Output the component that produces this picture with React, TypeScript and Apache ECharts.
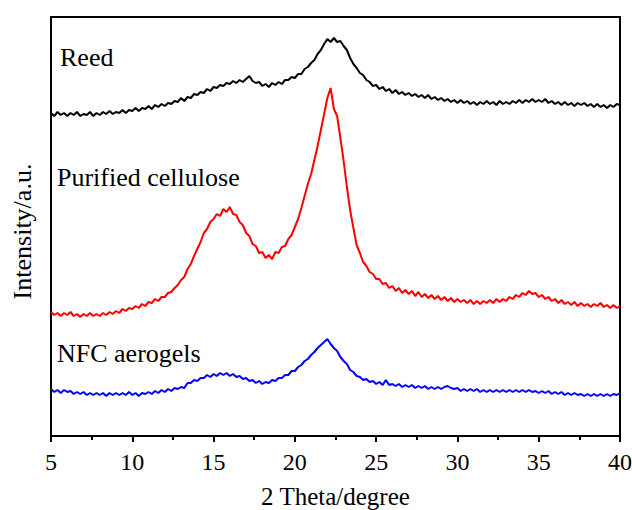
import React, { useEffect, useRef } from "react";
import * as echarts from "echarts";

const thetaStart = 5;
const thetaStep = 0.2;
const xTicks = [5, 10, 15, 20, 25, 30, 35, 40];
const seriesNames = ["Reed", "Purified cellulose", "NFC aerogels"];
const seriesColors = ["#000000", "#ff0000", "#0000ff"];

const reed = [
  323, 320, 324, 321, 323, 320, 323, 321, 324, 320, 322, 321, 324, 320, 323,
  321, 324, 322, 325, 322, 324, 323, 326, 323, 326, 325, 328, 325, 328, 327,
  330, 327, 331, 329, 332, 330, 333, 332, 335, 334, 338, 335, 339, 338, 342,
  341, 344, 343, 347, 345, 349, 348, 351, 350, 353, 352, 355, 353, 356, 354,
  357, 360, 355, 353, 354, 350, 352, 349, 353, 351, 354, 352, 356, 356, 359,
  358, 362, 362, 367, 369, 373, 376, 382, 386, 392, 397, 394, 398, 394, 395,
  390, 386, 378, 372, 368, 363, 361, 356, 354, 350, 351, 347, 349, 345, 347,
  343, 346, 342, 344, 341, 343, 340, 342, 339, 341, 338, 341, 337, 339, 336,
  338, 335, 337, 334, 336, 333, 336, 333, 335, 332, 334, 331, 334, 332, 335,
  332, 334, 331, 335, 332, 334, 332, 335, 333, 336, 333, 336, 334, 337, 334,
  336, 334, 337, 333, 335, 332, 334, 331, 334, 331, 333, 330, 333, 331, 333,
  330, 332, 329, 332, 329, 331, 328, 331, 329, 332, 331,
];

const purified = [
  124, 121, 123, 120, 123, 121, 124, 120, 122, 119, 122, 120, 123, 120, 122,
  120, 123, 121, 124, 122, 125, 123, 127, 125, 128, 127, 130, 128, 132, 130,
  134, 133, 137, 135, 139, 139, 143, 144, 148, 151, 156, 159, 167, 172, 180,
  187, 194, 203, 207, 214, 217, 222, 220, 227, 224, 229, 222, 221, 214, 211,
  203, 200, 192, 190, 183, 184, 178, 181, 177, 184, 183, 189, 190, 197, 201,
  209, 217, 228, 240, 252, 262, 276, 290, 306, 322, 338, 348, 327, 320, 298,
  275, 249, 226, 208, 191, 183, 174, 170, 164, 162, 157, 157, 152, 153, 148,
  150, 145, 148, 143, 146, 142, 145, 140, 144, 139, 142, 138, 141, 137, 140,
  136, 139, 135, 138, 134, 137, 134, 136, 133, 136, 132, 135, 132, 135, 133,
  136, 133, 137, 134, 137, 135, 139, 137, 141, 139, 143, 141, 145, 142, 143,
  139, 141, 137, 139, 135, 137, 133, 136, 132, 134, 131, 134, 130, 133, 130,
  132, 129, 132, 130, 133, 129, 131, 128, 131, 128, 130,
];

const aerogels = [
  47, 44, 46, 43, 46, 44, 45, 42, 44, 42, 44, 41, 43, 41, 43,
  41, 43, 40, 43, 41, 43, 41, 43, 41, 44, 41, 43, 40, 43, 42,
  44, 42, 45, 43, 46, 44, 47, 45, 48, 47, 49, 48, 53, 53, 56,
  55, 58, 58, 61, 59, 62, 60, 63, 61, 63, 60, 62, 59, 60, 57,
  58, 55, 56, 53, 55, 52, 54, 53, 56, 55, 58, 58, 61, 61, 65,
  65, 69, 71, 75, 77, 81, 84, 88, 91, 94, 97, 92, 88, 85, 79,
  75, 72, 66, 64, 60, 59, 56, 57, 54, 55, 52, 54, 51, 56, 51,
  52, 50, 52, 49, 51, 49, 51, 48, 50, 48, 50, 47, 49, 47, 49,
  47, 49, 50, 48, 47, 48, 45, 47, 45, 47, 45, 47, 44, 46, 44,
  46, 44, 46, 44, 46, 44, 46, 44, 46, 44, 46, 44, 46, 44, 45,
  43, 45, 43, 45, 42, 44, 42, 44, 41, 43, 41, 43, 41, 42, 40,
  42, 40, 42, 40, 42, 40, 42, 40, 42, 41, 43,
];

const seriesValues = [reed, purified, aerogels];

function toPairs(vals: number[]) {
  return vals.map((v, i) => [
    Math.round((thetaStart + i * thetaStep) * 10) / 10,
    v,
  ]);
}

const serif = "Liberation Serif";

export default function App() {
  const ref = useRef<HTMLDivElement>(null);
  useEffect(() => {
    if (!ref.current) return;
    const chart = echarts.init(ref.current, undefined, { renderer: "svg" });
    const labelTops = [44, 164, 340];
    const labelLefts = [60, 57, 57];
    chart.setOption({
      animation: false,
      backgroundColor: "#ffffff",
      grid: {
        left: 51,
        right: 12,
        top: 17,
        bottom: 74,
        show: true,
        borderColor: "#000000",
        borderWidth: 2,
        backgroundColor: "transparent",
        outerBoundsMode: "none",
        containLabel: false,
      },
      xAxis: {
        type: "value",
        min: xTicks[0],
        max: xTicks[xTicks.length - 1],
        interval: 5,
        name: "2 Theta/degree",
        nameLocation: "middle",
        nameGap: 48,
        nameTextStyle: { fontFamily: serif, fontSize: 25, color: "#000" },
        axisLine: { show: true, lineStyle: { color: "#000", width: 2 } },
        axisTick: {
          show: true,
          inside: false,
          length: 6,
          lineStyle: { color: "#000", width: 2 },
        },
        minorTick: {
          show: true,
          splitNumber: 2,
          length: 4,
          lineStyle: { color: "#000", width: 2 },
        },
        axisLabel: {
          fontFamily: serif,
          fontSize: 24,
          color: "#000",
          margin: 14,
        },
        splitLine: { show: false },
      },
      yAxis: {
        type: "value",
        min: 0,
        max: 419,
        name: "Intensity/a.u.",
        nameLocation: "middle",
        nameGap: 16,
        nameRotate: 90,
        nameTextStyle: {
          fontFamily: serif,
          fontSize: 26,
          color: "#000",
          padding: [0, 10, 0, 0],
        },
        axisLine: { show: true, lineStyle: { color: "#000", width: 2 } },
        axisTick: { show: false },
        axisLabel: { show: false },
        splitLine: { show: false },
      },
      series: seriesValues.map((vals, i) => ({
        name: seriesNames[i],
        type: "line",
        data: toPairs(vals),
        showSymbol: false,
        symbol: "none",
        lineStyle: { color: seriesColors[i], width: 2 },
        itemStyle: { color: seriesColors[i] },
      })),
      graphic: seriesNames.map((name, i) => ({
        type: "text",
        left: labelLefts[i],
        top: labelTops[i],
        style: {
          text: name,
          fontFamily: serif,
          fontSize: 26,
          fill: "#000",
        },
      })),
    });
    return () => chart.dispose();
  }, []);
  return (
    <div
      ref={ref}
      style={{ position: "fixed", left: 0, top: 0, width: 632, height: 510 }}
    />
  );
}
